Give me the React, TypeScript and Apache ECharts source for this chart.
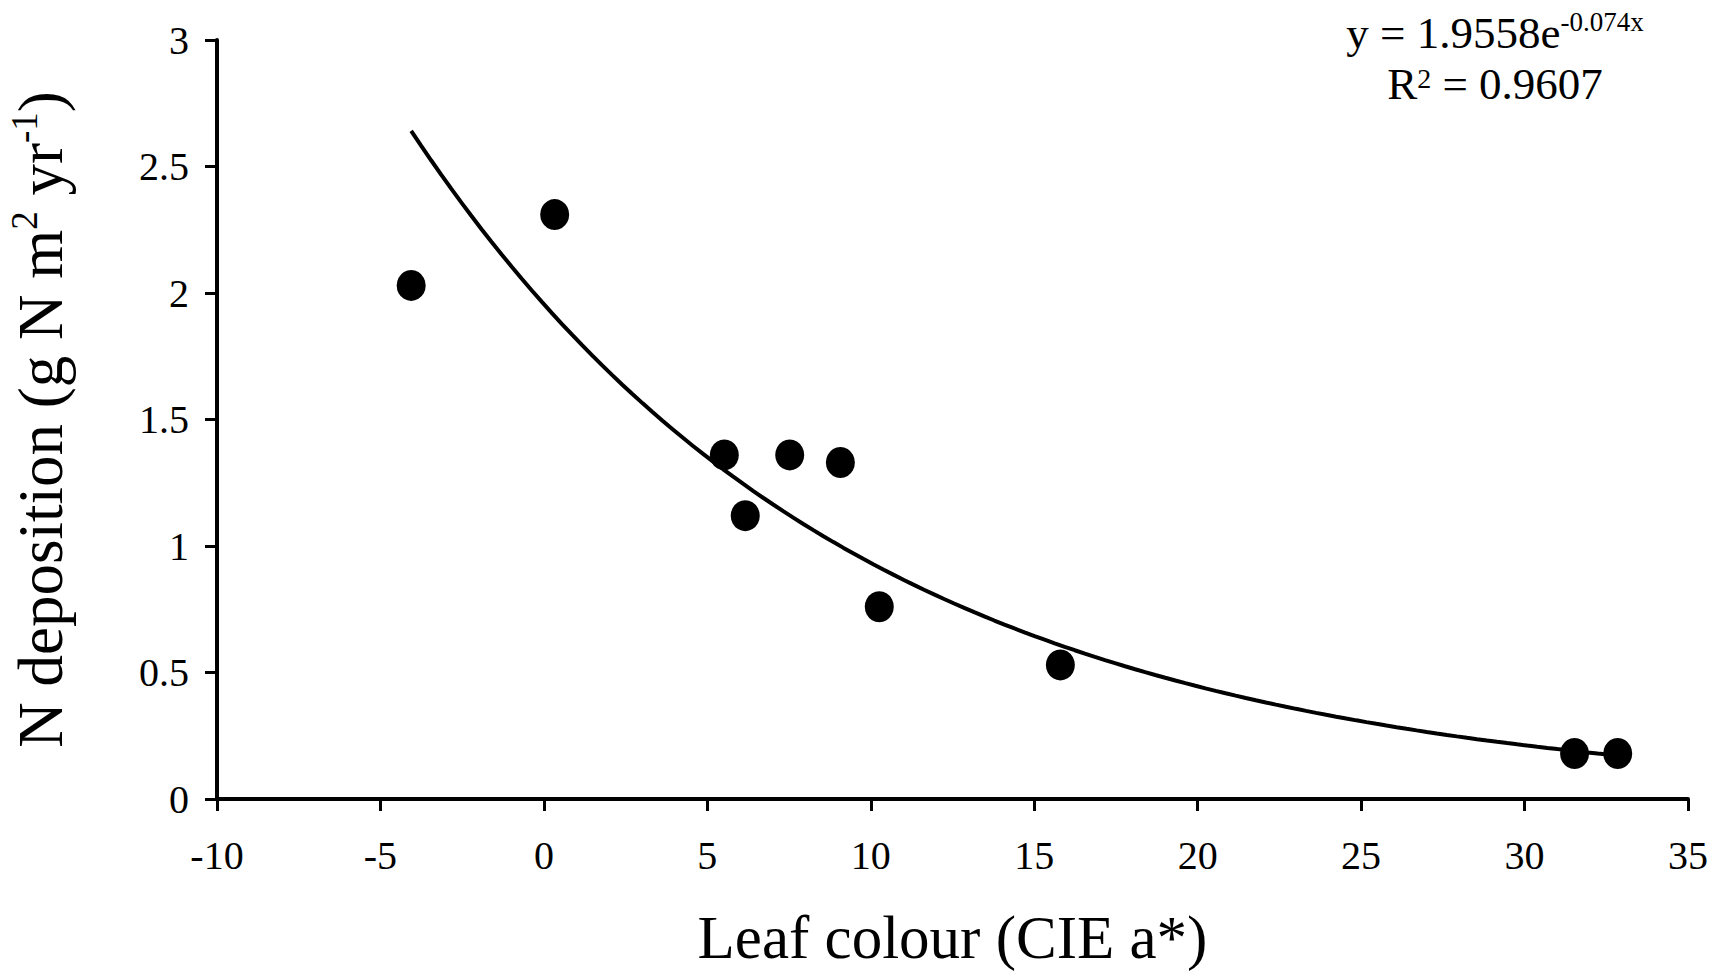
import React, { useEffect, useRef } from "react";
import * as echarts from "echarts";

// Observed points (leaf colour CIE a*, N deposition)
const leafColour = [-4.06, 0.33, 5.52, 6.16, 7.52, 9.07, 10.26, 15.8, 31.53, 32.85];
const nDeposition = [2.03, 2.31, 1.36, 1.12, 1.36, 1.33, 0.76, 0.53, 0.18, 0.18];

// Exponential trendline stated on the chart: y = 1.9558 e^(-0.074x)
const trendA = 1.9558;
const trendB = -0.074;
const trendStart = -4.06;
const trendEnd = 32.85;
const trendSteps = 120;

const xTicks = { min: -10, max: 35, interval: 5 };
const yTicks = { min: 0, max: 3, interval: 0.5 };

const FONT = "'Liberation Serif', 'DejaVu Serif', serif";

export default function App() {
  const ref = useRef<HTMLDivElement>(null);

  useEffect(() => {
    document.body.style.margin = "0";
    document.body.style.overflow = "hidden";
    if (!ref.current) return;
    const chart = echarts.init(ref.current, null, { renderer: "svg" });

    const trend: number[][] = [];
    for (let i = 0; i <= trendSteps; i++) {
      const x = trendStart + ((trendEnd - trendStart) * i) / trendSteps;
      trend.push([x, trendA * Math.exp(trendB * x)]);
    }
    const points = leafColour.map((x, i) => [x, nDeposition[i]]);

    chart.setOption({
      animation: false,
      backgroundColor: "#ffffff",
      textStyle: { fontFamily: FONT, color: "#000" },
      grid: { left: 217, right: 42, top: 40, bottom: 174, containLabel: false, outerBoundsMode: "none" },
      xAxis: {
        type: "value",
        min: xTicks.min,
        max: xTicks.max,
        interval: xTicks.interval,
        splitLine: { show: false },
        axisLine: { show: true, onZero: false, lineStyle: { color: "#000", width: 4 } },
        axisTick: { show: true, length: 12, lineStyle: { color: "#000", width: 3 } },
        axisLabel: { color: "#000", fontFamily: FONT, fontSize: 40, margin: 36 },
        name: "Leaf colour (CIE a*)",
        nameLocation: "middle",
        nameGap: 106,
        nameTextStyle: { color: "#000", fontFamily: FONT, fontSize: 61, lineHeight: 64 },
      },
      yAxis: {
        type: "value",
        min: yTicks.min,
        max: yTicks.max,
        interval: yTicks.interval,
        splitLine: { show: false },
        axisLine: { show: true, onZero: false, lineStyle: { color: "#000", width: 4 } },
        axisTick: { show: true, length: 12, lineStyle: { color: "#000", width: 3 } },
        axisLabel: { color: "#000", fontFamily: FONT, fontSize: 40, margin: 28 },
        name: "{n|N deposition (g N m}{sup|2}{n| yr}{sup|-1}{n|)}",
        nameLocation: "middle",
        nameGap: 142,
        nameRotate: 90,
        nameTextStyle: {
          color: "#000",
          fontFamily: FONT,
          fontSize: 63,
          rich: {
            n: { fontFamily: FONT, fontSize: 63, color: "#000" },
            sup: { fontFamily: FONT, fontSize: 37, color: "#000", verticalAlign: "top", padding: [0, 0, 32, 0] },
          },
        },
      },
      series: [
        {
          type: "line",
          data: trend,
          showSymbol: false,
          symbol: "none",
          lineStyle: { color: "#000", width: 4 },
          z: 2,
        },
        {
          type: "scatter",
          data: points,
          symbol: "circle",
          symbolSize: [29, 31],
          itemStyle: { color: "#000", opacity: 1 },
          z: 3,
        },
      ],
      graphic: [
        {
          type: "text",
          x: 1495,
          y: 33,
          style: {
            text: "{n|y = 1.9558e}{sup|-0.074x}",
            align: "center",
            verticalAlign: "middle",
            fontFamily: FONT,
            rich: {
              n: { fontFamily: FONT, fontSize: 45, fill: "#000" },
              sup: { fontFamily: FONT, fontSize: 27, fill: "#000", padding: [0, 0, 22, 0] },
            },
          },
        },
        {
          type: "text",
          x: 1495,
          y: 84,
          style: {
            text: "{n|R}{sup|2}{n| = 0.9607}",
            align: "center",
            verticalAlign: "middle",
            fontFamily: FONT,
            rich: {
              n: { fontFamily: FONT, fontSize: 45, fill: "#000" },
              sup: { fontFamily: FONT, fontSize: 28, fill: "#000", padding: [0, 0, 12, 0] },
            },
          },
        },
      ],
    });

    return () => chart.dispose();
  }, []);

  return <div ref={ref} style={{ width: 1730, height: 973 }} />;
}
